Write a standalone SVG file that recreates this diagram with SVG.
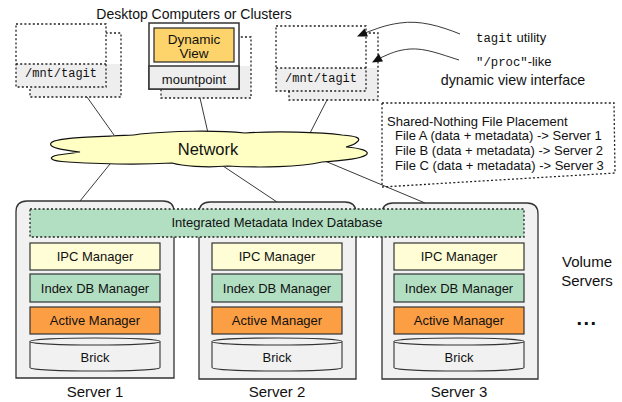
<svg xmlns="http://www.w3.org/2000/svg" width="622" height="402" viewBox="0 0 622 402">
<defs>
<style>
.t{font-family:"Liberation Sans",Arial,sans-serif;fill:#111;text-anchor:middle}
.m{font-family:"Liberation Mono","DejaVu Sans Mono",monospace;fill:#111}
.dot{fill:none;stroke:#222;stroke-width:1.3;stroke-dasharray:2 2.2}
.ln{fill:none;stroke:#222;stroke-width:0.9}
.head{fill:#111;stroke:none}
.srv{fill:#f1f1f1;stroke:#333;stroke-width:1.3}
.ipc{fill:#fefdd6;stroke:#333;stroke-width:1.2}
.idx{fill:#b2dfc2;stroke:#333;stroke-width:1.2}
.act{fill:#fb9e44;stroke:#333;stroke-width:1.2}
.brick{fill:#f1f1f1;stroke:#333;stroke-width:1.1}
.gray{fill:#eeeeee}
</style>
</defs>
<rect width="622" height="402" fill="#fff"/>

<text class="t" x="194" y="18.5" font-size="14">Desktop Computers or Clusters</text>

<g id="connectors">
<line class="ln" x1="87" y1="97" x2="114" y2="135"/>
<line class="ln" x1="200" y1="98" x2="208" y2="133"/>
<line class="ln" x1="327" y1="100" x2="309" y2="135"/>
<line class="ln" x1="110" y1="164" x2="80" y2="201"/>
<line class="ln" x1="223" y1="166" x2="277" y2="202"/>
<line class="ln" x1="325" y1="161" x2="425" y2="203"/>
</g>

<g id="desktop-left">
<rect x="30" y="33" width="91" height="64" fill="#fff"/>
<rect x="30" y="64" width="91" height="33" class="gray"/>
<rect x="30" y="33" width="91" height="64" class="dot"/>
<rect x="16" y="24" width="90" height="63" fill="#fff"/>
<rect x="16" y="64" width="90" height="23" class="gray"/>
<rect x="16" y="24" width="90" height="63" class="dot"/>
<line x1="16" y1="64" x2="106" y2="64" class="dot"/>
<text class="m" x="61" y="77" font-size="12" text-anchor="middle">/mnt/tagit</text>
</g>

<g id="desktop-middle">
<rect x="161" y="37" width="90" height="61" fill="#fff"/>
<rect x="161" y="66" width="90" height="32" class="gray"/>
<rect x="161" y="37" width="90" height="61" class="dot"/>
<rect x="149" y="23" width="90" height="66" fill="#fff" stroke="#333" stroke-width="1.5"/>
<rect x="149" y="66" width="90" height="23" class="gray" stroke="#333" stroke-width="1.5"/>
<rect x="154" y="28" width="80" height="34" fill="#fdd36b" stroke="#333" stroke-width="1.3"/>
<text class="t" x="194" y="44" font-size="13.5">Dynamic</text>
<text class="t" x="194" y="58" font-size="13.5">View</text>
<text class="t" x="194" y="83.5" font-size="13">mountpoint</text>
</g>

<g id="desktop-right">
<rect x="289" y="33" width="89" height="67" fill="#fff"/>
<rect x="289" y="68" width="89" height="32" class="gray"/>
<rect x="289" y="33" width="89" height="67" class="dot"/>
<rect x="276" y="26" width="90" height="65" fill="#fff"/>
<rect x="276" y="68" width="90" height="23" class="gray"/>
<rect x="276" y="26" width="90" height="65" class="dot"/>
<line x1="276" y1="68" x2="366" y2="68" class="dot"/>
<text class="m" x="321" y="82" font-size="12" text-anchor="middle">/mnt/tagit</text>
</g>

<g id="annotation-arrows">
<path class="ln" stroke-width="1.4" d="M460,34 C440,26 420,20 400,23 C385,25 376,29 366.3,32.5"/>
<polygon class="head" points="357,36.5 364.6,28.4 368,36.6"/>
<path class="ln" stroke-width="1.4" d="M459,60 C440,54 425,48 410,49 C397,50 389,54 380.9,57.7"/>
<polygon class="head" points="372,62.5 378.8,53.8 383,61.5"/>
</g>

<g id="labels-right">
<text x="476" y="41.5" font-size="13"><tspan class="m" font-size="12.3">tagit</tspan><tspan font-family="Liberation Sans,Arial,sans-serif" fill="#111"> utility</tspan></text>
<text x="476" y="65.5" font-size="13"><tspan class="m" font-size="12.3">"/proc"</tspan><tspan font-family="Liberation Sans,Arial,sans-serif" fill="#111">-like</tspan></text>
<text class="t" x="513" y="85" font-size="14.3">dynamic view interface</text>
</g>

<g id="network">
<path fill="#ffffc3" stroke="#111" stroke-width="1.2" d="M80,152 C64,150 48,148 51,143 C55,138 85,137 112,136 C124,135 132,136 140,134 C170,131 215,130 245,133 C275,131 320,132 342,135 C356,136 362,138 357,142 C354,145 350,146 346,147 C360,148 371,151 366,155 C360,159 338,161 322,162 C300,167 260,168 228,166 C205,168 182,166 172,163 C140,165 100,164 68,162 C48,161 48,157 58,155 C66,154 74,153 80,152 Z"/>
<text class="t" x="208" y="155" font-size="16.5">Network</text>
</g>

<g id="shared-nothing">
<polygon class="dot" points="382,103 614,103 615,173 382,187"/>
<text x="387" y="126" font-size="13" font-family="Liberation Sans,Arial,sans-serif" fill="#111">Shared-Nothing File Placement</text>
<text x="395" y="139.5" font-size="13" font-family="Liberation Sans,Arial,sans-serif" fill="#111">File A (data + metadata) -&gt; Server 1</text>
<text x="395" y="154.5" font-size="13" font-family="Liberation Sans,Arial,sans-serif" fill="#111">File B (data + metadata) -&gt; Server 2</text>
<text x="395" y="169.5" font-size="13" font-family="Liberation Sans,Arial,sans-serif" fill="#111">File C (data + metadata) -&gt; Server 3</text>
</g>

<g id="server1">
<path class="srv" d="M16,378 V212 Q16,201 27,201 H163 Q174,201 174,212 V378 Z"/>
<rect class="ipc" x="30" y="243" width="130" height="27"/>
<text class="t" x="95" y="261" font-size="13">IPC Manager</text>
<rect class="idx" x="30" y="274" width="130" height="28"/>
<text class="t" x="95" y="293" font-size="13">Index DB Manager</text>
<rect class="act" x="30" y="307" width="130" height="27"/>
<text class="t" x="95" y="325" font-size="13">Active Manager</text>
<path class="brick" d="M30,341.5 A65,3.5 0 0 1 160,341.5 V367.5 A65,3.5 0 0 1 30,367.5 Z"/>
<path class="brick" fill="none" d="M30,341.5 A65,3.5 0 0 0 160,341.5"/>
<text class="t" x="95" y="361.5" font-size="13">Brick</text>
<text class="t" x="95" y="397" font-size="15">Server 1</text>
</g>

<g id="server2">
<path class="srv" d="M199,379 V213 Q199,202 210,202 H345 Q356,202 356,213 V379 Z"/>
<rect class="ipc" x="212" y="243" width="130" height="27"/>
<text class="t" x="277" y="261" font-size="13">IPC Manager</text>
<rect class="idx" x="212" y="274" width="130" height="28"/>
<text class="t" x="277" y="293" font-size="13">Index DB Manager</text>
<rect class="act" x="212" y="307" width="130" height="27"/>
<text class="t" x="277" y="325" font-size="13">Active Manager</text>
<path class="brick" d="M212,341.5 A65,3.5 0 0 1 342,341.5 V367.5 A65,3.5 0 0 1 212,367.5 Z"/>
<path class="brick" fill="none" d="M212,341.5 A65,3.5 0 0 0 342,341.5"/>
<text class="t" x="277" y="361.5" font-size="13">Brick</text>
<text class="t" x="277" y="397" font-size="15">Server 2</text>
</g>

<g id="server3">
<path class="srv" d="M382,379 V214 Q382,203 393,203 H527 Q538,203 538,214 V379 Z"/>
<rect class="ipc" x="394" y="243" width="130" height="27"/>
<text class="t" x="459" y="261" font-size="13">IPC Manager</text>
<rect class="idx" x="394" y="274" width="130" height="28"/>
<text class="t" x="459" y="293" font-size="13">Index DB Manager</text>
<rect class="act" x="394" y="307" width="130" height="27"/>
<text class="t" x="459" y="325" font-size="13">Active Manager</text>
<path class="brick" d="M394,341.5 A65,3.5 0 0 1 524,341.5 V367.5 A65,3.5 0 0 1 394,367.5 Z"/>
<path class="brick" fill="none" d="M394,341.5 A65,3.5 0 0 0 524,341.5"/>
<text class="t" x="459" y="361.5" font-size="13">Brick</text>
<text class="t" x="459" y="397" font-size="15">Server 3</text>
</g>

<g id="metadata-db">
<rect x="30" y="209" width="494" height="28" fill="#b2dfc2"/>
<rect x="30" y="209" width="494" height="28" class="dot"/>
<text class="t" x="277" y="226.5" font-size="13">Integrated Metadata Index Database</text>
</g>

<g id="volume-servers">
<text class="t" x="587" y="267" font-size="15">Volume</text>
<text class="t" x="587" y="286" font-size="15">Servers</text>
<text class="t" x="587" y="325" font-size="20" font-weight="bold" letter-spacing="1.5">...</text>
</g>
</svg>
